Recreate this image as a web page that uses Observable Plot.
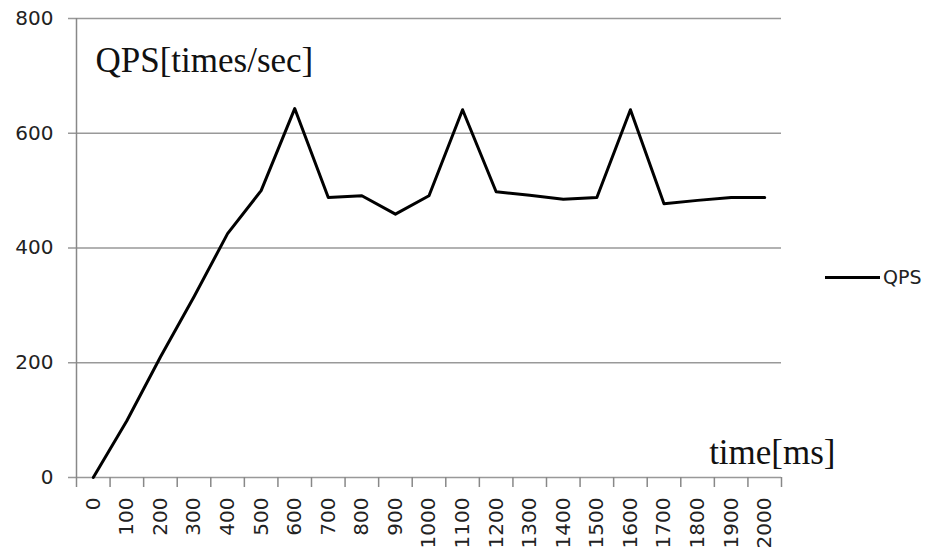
<!DOCTYPE html>
<html><head><meta charset="utf-8">
<script src="https://cdn.jsdelivr.net/npm/d3@7"></script>
<script src="https://cdn.jsdelivr.net/npm/@observablehq/plot@0.6"></script>
<style>
body{margin:0;background:#fff;}
#wrap{position:relative;width:930px;height:549px;}
#legend{position:absolute;left:825px;top:266px;display:flex;align-items:center;font:19px "DejaVu Sans";color:#222;line-height:22px;}
#legend .sw{display:inline-block;width:55px;height:3px;background:#000;margin-right:3px;}
</style></head><body>
<div id="wrap"><div id="legend"><span class="sw"></span><span id="legendText"></span></div></div>
<script>
const timeMs = [0,100,200,300,400,500,600,700,800,900,1000,1100,1200,1300,1400,1500,1600,1700,1800,1900,2000];
const qps = [0,99,210,315,425,500,643,488,491,459,491,641,498,492,485,488,641,477,483,488,488];
const yTicks = [0,200,400,600,800];
const seriesName = "QPS";
const yTitle = "QPS[times/sec]";
const xTitle = "time[ms]";

const data = timeMs.map((t, i) => ({t, v: qps[i]}));
const half = (timeMs[1] - timeMs[0]) / 2;
const boundaries = [...timeMs.map(t => t - half), timeMs[timeMs.length - 1] + half];

document.getElementById("legendText").textContent = seriesName;

const chart = Plot.plot({
  width: 930, height: 549,
  marginLeft: 76, marginRight: 149, marginTop: 18, marginBottom: 72,
  style: {fontFamily: "DejaVu Sans", fontSize: "20px", color: "#222", background: "transparent"},
  x: {type: "linear", domain: [boundaries[0], boundaries[boundaries.length - 1]]},
  y: {domain: [0, 800]},
  marks: [
    Plot.gridY(yTicks, {stroke: "#999", strokeOpacity: 1, strokeWidth: 1.5, insetLeft: -8}),
    Plot.ruleX([boundaries[0]], {stroke: "#888", strokeWidth: 1.5}),
    Plot.axisY(yTicks, {tickSize: 0, tickPadding: 23, label: null, fontSize: 20, tickFormat: d => String(d)}),
    Plot.axisX(boundaries, {tickSize: 10, stroke: "#888", strokeWidth: 1.5, tickFormat: () => "", label: null}),
    Plot.axisX(timeMs, {tickSize: 0, tickPadding: 20, tickRotate: -90, label: null, fontSize: 20, tickFormat: d => String(d)}),
    Plot.line(data, {x: "t", y: "v", stroke: "#000", strokeWidth: 3}),
    Plot.text([yTitle], {frameAnchor: "top-left", dx: 19, dy: 29, textAnchor: "start", lineAnchor: "top", fontFamily: "Liberation Serif", fontSize: 35, fill: "#111"}),
    Plot.text([xTitle], {frameAnchor: "bottom-right", dx: 54, dy: -14, textAnchor: "end", lineAnchor: "bottom", fontFamily: "Liberation Serif", fontSize: 35, fill: "#111"})
  ]
});
document.getElementById("wrap").prepend(chart);
</script>
</body></html>
